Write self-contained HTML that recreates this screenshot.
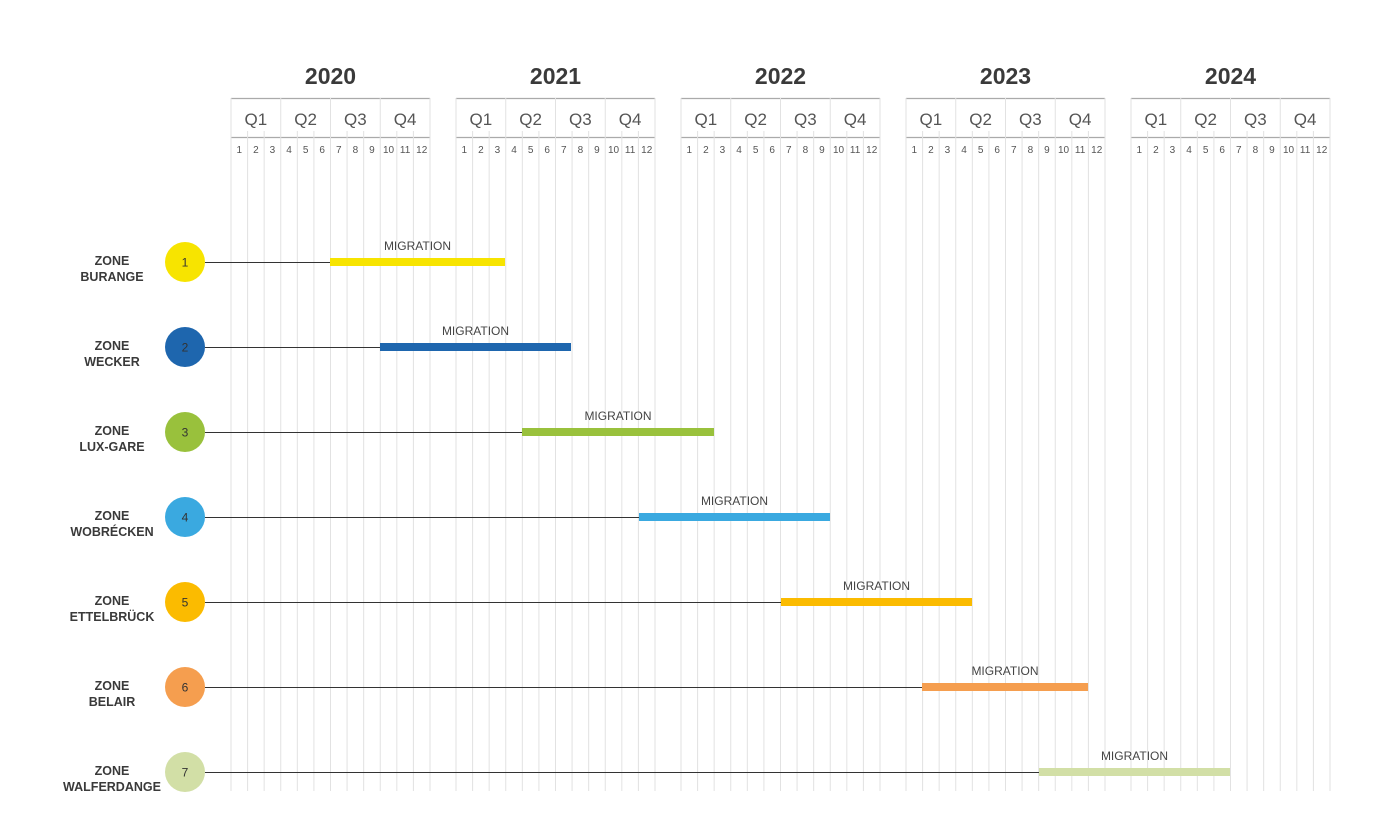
<!DOCTYPE html><html><head><style>body{margin:0;background:#fff}svg{display:block}text{font-family:"Liberation Sans",sans-serif}</style></head><body>
<svg width="1394" height="840" xmlns="http://www.w3.org/2000/svg" id="s"></svg>
<script>
const s=document.getElementById('s');let h='';
const starts=[231,456,681,906,1131],W=199,m=W/12,years=[2020,2021,2022,2023,2024];
starts.forEach((x0,i)=>{
 h+=`<text x="${x0+W/2}" y="84" text-anchor="middle" font-size="23" font-weight="bold" fill="#3a3a3a">${years[i]}</text>`;
 h+=`<line x1="${x0}" x2="${x0+W}" y1="98.5" y2="98.5" stroke="#aaa" stroke-width="1.2"/>`;
 h+=`<line x1="${x0}" x2="${x0+W}" y1="137.5" y2="137.5" stroke="#aaa" stroke-width="1.2"/>`;
 for(let k=0;k<=12;k++){const x=x0+k*m;const q=k%3==0;
  h+=`<line x1="${x}" x2="${x}" y1="${q?98:131}" y2="791" stroke="#e2e2e2" stroke-width="1"/>`;}
 for(let q=0;q<4;q++)h+=`<text x="${x0+(q+.5)*3*m}" y="125" text-anchor="middle" font-size="17" fill="#555">Q${q+1}</text>`;
 for(let k=0;k<12;k++)h+=`<text x="${x0+(k+.5)*m}" y="153" text-anchor="middle" font-size="10" fill="#555">${k+1}</text>`;
});
const rows=[["BURANGE","#f7e400",330,505],["WECKER","#1e66ae",380,571],["LUX-GARE","#99c13c",522,714],["WOBRÉCKEN","#3aa9e0",639,830],["ETTELBRÜCK","#fbbb00",781,972],["BELAIR","#f59e4f",922,1088],["WALFERDANGE","#d2dfa6",1039,1230]];
rows.forEach((r,i)=>{const y=262+85*i;
 h+=`<line x1="205" x2="${r[2]}" y1="${y+0.5}" y2="${y+0.5}" stroke="#333" stroke-width="1" shape-rendering="crispEdges"/>`;
 h+=`<rect x="${r[2]}" y="${y-4}" width="${r[3]-r[2]}" height="8" fill="${r[1]}"/>`;
 h+=`<text x="${(r[2]+r[3])/2}" y="${y-12}" text-anchor="middle" font-size="12" fill="#444">MIGRATION</text>`;
 h+=`<circle cx="185" cy="${y}" r="20" fill="${r[1]}"/>`;
 h+=`<text x="185" y="${y+4.5}" text-anchor="middle" font-size="12" fill="#333">${i+1}</text>`;
 h+=`<text x="112" y="${y-4+7}" text-anchor="middle" font-size="12.5" font-weight="bold" fill="#3a3a3a">ZONE</text>`;
 h+=`<text x="112" y="${y+12+7}" text-anchor="middle" font-size="12.5" font-weight="bold" fill="#3a3a3a">${r[0]}</text>`;
});
s.innerHTML=h;
</script></body></html>
